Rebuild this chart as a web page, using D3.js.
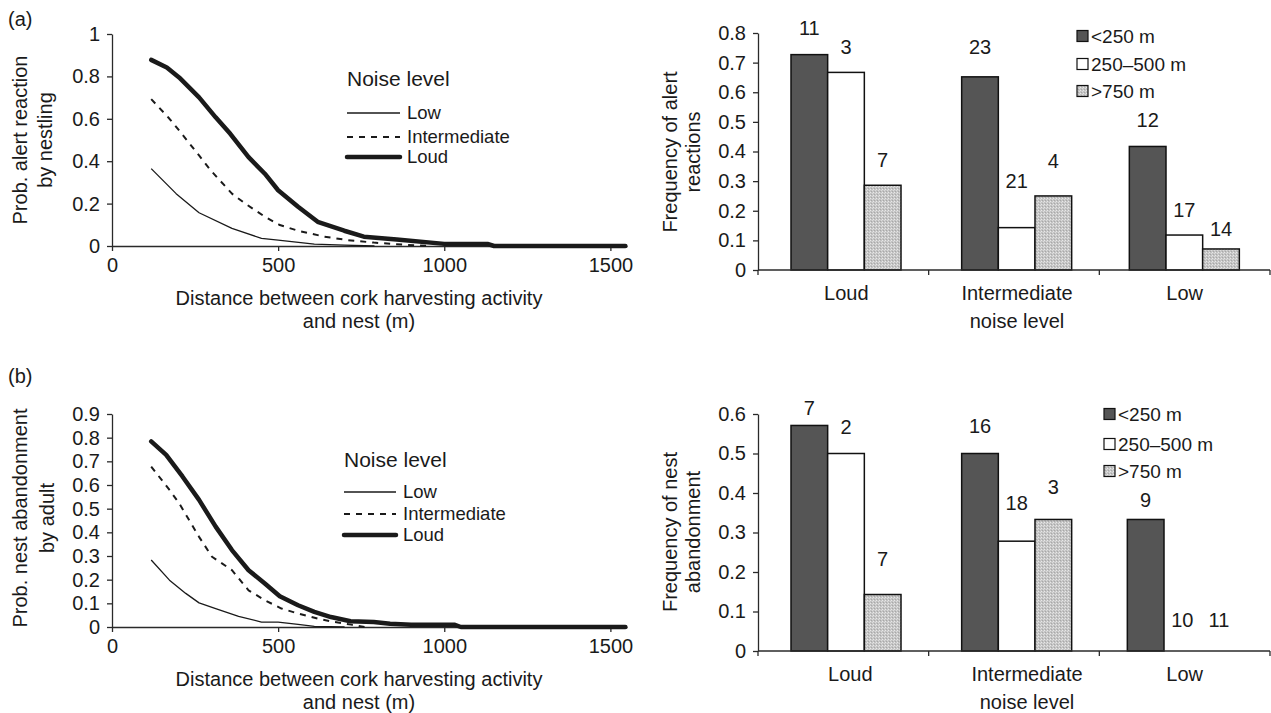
<!DOCTYPE html>
<html>
<head>
<meta charset="utf-8">
<script src="https://cdn.jsdelivr.net/npm/d3@7"></script>
<style>
    body { margin: 0; background: #fff; }
    svg text { font-family: "Liberation Sans", Arial, sans-serif; fill: #1a1a1a; }
</style>
</head>
<body>
<svg id="chart" width="1271" height="713"></svg>
<script>
// ---- Data ----
const curveNames = ["Low", "Intermediate", "Loud"];
const noiseCats = ["Loud", "Intermediate", "Low"];
const distClasses = ["<250 m", "250–500 m", ">750 m"];

const xTicks = [0, 500, 1000, 1500];
const yTicksAlertProb = [0, 0.2, 0.4, 0.6, 0.8, 1];
const yTicksAbandonProb = [0, 0.1, 0.2, 0.3, 0.4, 0.5, 0.6, 0.7, 0.8, 0.9];
const yTicksAlertFreq = [0, 0.1, 0.2, 0.3, 0.4, 0.5, 0.6, 0.7, 0.8];
const yTicksAbandonFreq = [0, 0.1, 0.2, 0.3, 0.4, 0.5, 0.6];

// (a) probability of alert reaction by nestling vs distance (m)
const alertLow = [[118,0.365],[193,0.247],[262,0.157],[361,0.083],[450,0.036],[500,0.028],[609,0.009],[700,0.004],[790,0]];
const alertInter = [[118,0.693],[173,0.6],[202,0.545],[262,0.427],[297,0.357],[361,0.247],[401,0.2],[460,0.138],[505,0.099],[560,0.072],[639,0.044],[708,0.028],[788,0.016],[880,0.006],[960,0]];
const alertLoud = [[118,0.878],[165,0.842],[202,0.795],[262,0.701],[312,0.607],[356,0.529],[411,0.419],[460,0.341],[500,0.263],[560,0.185],[619,0.114],[699,0.072],[758,0.044],[857,0.031],[1000,0.01],[1130,0.01],[1150,0],[1545,0]];

// (b) probability of nest abandonment by adult vs distance (m)
const abandonLow = [[118,0.283],[173,0.198],[222,0.142],[262,0.102],[312,0.078],[381,0.045],[450,0.021],[500,0.021],[560,0.011],[609,0.003],[700,0]];
const abandonInter = [[118,0.678],[173,0.579],[202,0.523],[262,0.381],[301,0.297],[361,0.24],[411,0.155],[460,0.113],[510,0.078],[560,0.057],[619,0.036],[659,0.024],[720,0.01],[760,0]];
const abandonLoud = [[118,0.784],[163,0.727],[212,0.636],[262,0.537],[312,0.424],[361,0.325],[411,0.24],[460,0.184],[505,0.13],[560,0.092],[609,0.064],[659,0.042],[718,0.024],[788,0.021],[837,0.014],[900,0.01],[1030,0.01],[1050,0],[1545,0]];

// frequencies per noise category (Loud, Intermediate, Low), one array per distance class
const alertNear = [0.727, 0.652, 0.417];
const alertMid = [0.667, 0.143, 0.118];
const alertFar = [0.286, 0.25, 0.071];
const alertNearN = [11, 23, 12];
const alertMidN = [3, 21, 17];
const alertFarN = [7, 4, 14];

const abandonNear = [0.571, 0.5, 0.333];
const abandonMid = [0.5, 0.278, 0];
const abandonFar = [0.143, 0.333, 0];
const abandonNearN = [7, 16, 9];
const abandonMidN = [2, 18, 10];
const abandonFarN = [7, 3, 11];

// ---- Layout ----
const svg = d3.select("#chart");
const FONT = 20;
const ink = "#1a1a1a";
const axisInk = "#2a2a2a";

// stipple pattern for the >750 m bars
const defs = svg.append("defs");
const pat = defs.append("pattern")
    .attr("id", "stipple")
    .attr("width", 3).attr("height", 3)
    .attr("patternUnits", "userSpaceOnUse");
pat.append("rect").attr("width", 3).attr("height", 3).attr("fill", "#c4c4c4");
pat.append("rect").attr("x", 0).attr("y", 0).attr("width", 1).attr("height", 1).attr("fill", "#e8e8e8");
pat.append("rect").attr("x", 2).attr("y", 1).attr("width", 1).attr("height", 1).attr("fill", "#dcdcdc");
pat.append("rect").attr("x", 1).attr("y", 2).attr("width", 1).attr("height", 1).attr("fill", "#a8a8a8");

const barFills = ["#555555", "#ffffff", "url(#stipple)"];
const lineStyles = {
    Low: { width: 1.3, dash: null },
    Intermediate: { width: 2, dash: "6,6" },
    Loud: { width: 4.5, dash: null }
};

function styleAxis(g) {
    g.select(".domain").attr("stroke", axisInk).attr("stroke-width", 1.3);
    g.selectAll(".tick line").attr("stroke", axisInk).attr("stroke-width", 1.3);
    g.selectAll(".tick text").attr("fill", ink).style("font-size", FONT + "px");
}

function tickFmt(d) {
    return d3.format("~g")(+d.toFixed(2));
}

function rotatedTitle(lines, xs, cy) {
    lines.forEach((t, i) => {
        svg.append("text")
            .attr("transform", `translate(${xs[i]},${cy}) rotate(-90)`)
            .attr("text-anchor", "middle")
            .attr("dy", "0.35em")
            .style("font-size", FONT + "px")
            .text(t);
    });
}

// ---- Line panels ----
function linePanel(opt) {
    const x = d3.scaleLinear().domain([0, 1550]).range([112, 627]);
    const y = d3.scaleLinear().domain([0, opt.yMax]).range([opt.y0, opt.yTop]);

    const gx = svg.append("g")
        .attr("transform", `translate(0,${opt.y0})`)
        .call(d3.axisBottom(x).tickValues(xTicks).tickFormat(d3.format("d")).tickSize(5).tickPadding(7).tickSizeOuter(0));
    styleAxis(gx);

    const gy = svg.append("g")
        .attr("transform", "translate(112,0)")
        .call(d3.axisLeft(y).tickValues(opt.yTicks).tickFormat(tickFmt).tickSize(5).tickPadding(7).tickSizeOuter(0));
    styleAxis(gy);

    const line = d3.line().x(d => x(d[0])).y(d => y(d[1]));
    curveNames.forEach((name, i) => {
        const s = lineStyles[name];
        svg.append("path")
            .datum(opt.series[i])
            .attr("d", line)
            .attr("fill", "none")
            .attr("stroke", ink)
            .attr("stroke-width", s.width)
            .attr("stroke-dasharray", s.dash)
            .attr("stroke-linecap", name === "Loud" ? "round" : "butt")
            .attr("stroke-linejoin", "round");
    });

    // x-axis title
    ["Distance between cork harvesting activity", "and nest (m)"].forEach((t, i) => {
        svg.append("text")
            .attr("x", 359).attr("y", opt.xTitleY + i * 23)
            .attr("text-anchor", "middle")
            .attr("dy", "0.35em")
            .style("font-size", FONT + "px")
            .text(t);
    });

    rotatedTitle(opt.yTitle, opt.yTitleX, opt.yTitleY);

    // legend
    const lg = opt.legend;
    svg.append("text")
        .attr("x", lg.x).attr("y", lg.titleY)
        .attr("dy", "0.35em")
        .style("font-size", "21px")
        .text("Noise level");
    curveNames.forEach((name, i) => {
        const s = lineStyles[name];
        const ly = lg.rows[i];
        svg.append("line")
            .attr("x1", lg.x).attr("x2", lg.x + lg.len)
            .attr("y1", ly).attr("y2", ly)
            .attr("stroke", ink)
            .attr("stroke-width", s.width)
            .attr("stroke-dasharray", s.dash)
            .attr("stroke-linecap", name === "Loud" ? "round" : "butt");
        svg.append("text")
            .attr("x", lg.x + lg.len + 7).attr("y", ly)
            .attr("dy", "0.35em")
            .style("font-size", "18.5px")
            .text(name);
    });
}

// ---- Bar panels ----
function barPanel(opt) {
    const x = d3.scaleBand().domain(noiseCats).range([758, 1270]);
    const xs = d3.scaleBand().domain(distClasses).range([33, 143]);
    const y = d3.scaleLinear().domain([0, opt.yMax]).range([opt.y0, opt.yTop]);

    const gy = svg.append("g")
        .attr("transform", "translate(758,0)")
        .call(d3.axisLeft(y).tickValues(opt.yTicks).tickFormat(tickFmt).tickSize(5).tickPadding(7).tickSizeOuter(0));
    styleAxis(gy);

    opt.values.forEach((vals, k) => {
        vals.forEach((v, i) => {
            const c = noiseCats[i], d = distClasses[k];
            const bx = x(c) + xs(d) + (opt.groupShift[c] || 0);
            svg.append("rect")
                .attr("x", bx).attr("y", y(v))
                .attr("width", xs.bandwidth())
                .attr("height", opt.y0 - y(v))
                .attr("fill", barFills[k])
                .attr("stroke", "#111")
                .attr("stroke-width", 1.5);
            svg.append("text")
                .attr("x", bx + xs.bandwidth() / 2)
                .attr("y", y(v) - opt.lift[k][i])
                .attr("text-anchor", "middle")
                .attr("dy", "0.35em")
                .style("font-size", FONT + "px")
                .text(opt.counts[k][i]);
        });
    });

    // x axis with ticks at category boundaries
    const gx = svg.append("g").attr("transform", `translate(0,${opt.y0})`);
    gx.append("line")
        .attr("x1", 758).attr("x2", 1270)
        .attr("stroke", axisInk).attr("stroke-width", 1.3);
    const bounds = noiseCats.map(c => x(c)).concat([x.range()[1]]);
    gx.selectAll(".sep").data(bounds).join("line")
        .attr("x1", d => d).attr("x2", d => d)
        .attr("y1", 0).attr("y2", 5)
        .attr("stroke", axisInk).attr("stroke-width", 1.3);
    noiseCats.forEach(c => {
        svg.append("text")
            .attr("x", x(c) + x.bandwidth() / 2 + (opt.catShift[c] || 0))
            .attr("y", opt.y0 + 23)
            .attr("text-anchor", "middle")
            .attr("dy", "0.35em")
            .style("font-size", FONT + "px")
            .text(c);
    });
    svg.append("text")
        .attr("x", x("Intermediate") + x.bandwidth() / 2 + (opt.catShift.Intermediate || 0))
        .attr("y", opt.y0 + 51)
        .attr("text-anchor", "middle")
        .attr("dy", "0.35em")
        .style("font-size", FONT + "px")
        .text("noise level");

    rotatedTitle(opt.yTitle, [670, 693], opt.yTitleY);

    // legend
    const lg = opt.legend;
    distClasses.forEach((d, k) => {
        svg.append("rect")
            .attr("x", lg.x).attr("y", lg.rows[k] - 5.5)
            .attr("width", 11).attr("height", 11)
            .attr("fill", barFills[k])
            .attr("stroke", "#111").attr("stroke-width", 1.2);
        svg.append("text")
            .attr("x", lg.x + 14).attr("y", lg.rows[k])
            .attr("dy", "0.35em")
            .style("font-size", "19px")
            .text(d);
    });
}

// panel letters
svg.append("text").attr("x", 8).attr("y", 19).attr("dy", "0.35em").style("font-size", FONT + "px").text("(a)");
svg.append("text").attr("x", 8).attr("y", 376).attr("dy", "0.35em").style("font-size", FONT + "px").text("(b)");

linePanel({
    yMax: 1, y0: 246, yTop: 34, yTicks: yTicksAlertProb,
    series: [alertLow, alertInter, alertLoud],
    xTitleY: 298,
    yTitle: ["Prob. alert reaction", "by nestling"], yTitleX: [20, 45], yTitleY: 140,
    legend: { x: 347, len: 53, titleY: 79, rows: [113, 137, 157] }
});

linePanel({
    yMax: 0.9, y0: 627, yTop: 414, yTicks: yTicksAbandonProb,
    series: [abandonLow, abandonInter, abandonLoud],
    xTitleY: 679,
    yTitle: ["Prob. nest abandonment", "by adult"], yTitleX: [20, 47], yTitleY: 518,
    legend: { x: 344, len: 52, titleY: 460, rows: [492, 514, 535] }
});

barPanel({
    yMax: 0.8, y0: 270, yTop: 33, yTicks: yTicksAlertFreq,
    values: [alertNear, alertMid, alertFar],
    counts: [alertNearN, alertMidN, alertFarN],
    lift: [[27, 30, 26], [25, 47, 25], [25, 35, 20]],
    catShift: { Loud: 3, Intermediate: 3 },
    groupShift: { Low: -3 },
    yTitle: ["Frequency of alert", "reactions"], yTitleY: 152,
    legend: { x: 1077, rows: [36, 64, 91] }
});

barPanel({
    yMax: 0.6, y0: 651, yTop: 414, yTicks: yTicksAbandonFreq,
    values: [abandonNear, abandonMid, abandonFar],
    counts: [abandonNearN, abandonMidN, abandonFarN],
    lift: [[17, 28, 19], [27, 38, 31], [36, 32, 31]],
    catShift: { Loud: 7, Intermediate: 13 },
    groupShift: { Low: -5 },
    yTitle: ["Frequency of nest", "abandonment"], yTitleY: 532,
    legend: { x: 1104, rows: [414, 444, 471] }
});
</script>
</body>
</html>
